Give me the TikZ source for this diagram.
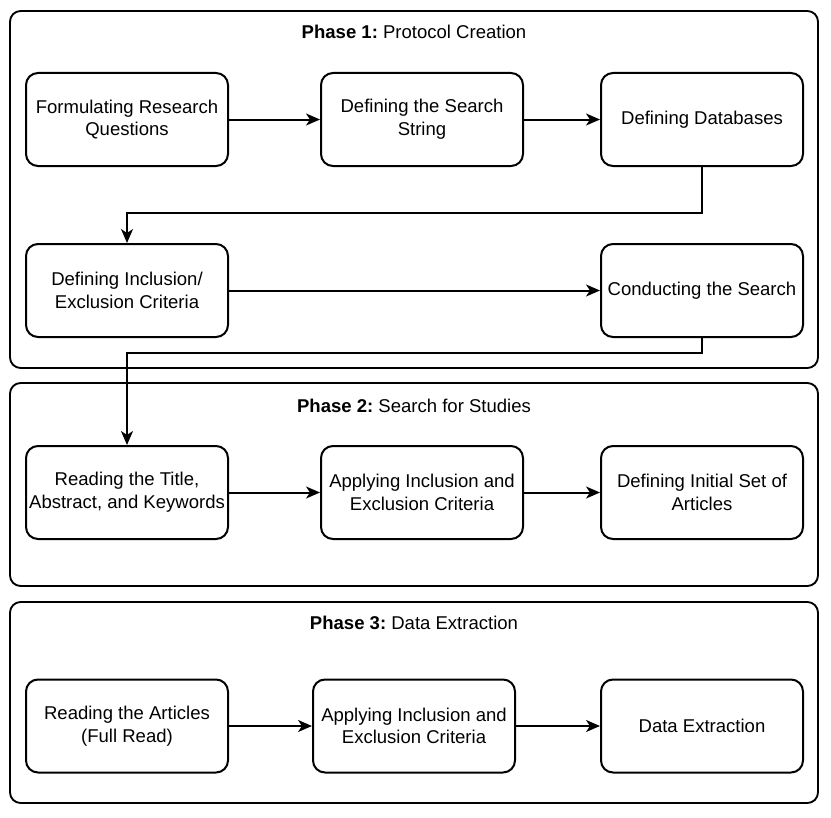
\documentclass[tikz,border=0pt]{standalone}
\usepackage{fontspec}
\setmainfont{Liberation Sans}
\usepackage{tikz}
\usetikzlibrary{arrows.meta,positioning}
\frenchspacing

\begin{document}
\begin{tikzpicture}[x=0.75pt, y=-0.75pt, >={Stealth[length=10.5pt, width=9pt, inset=3pt]},
  font=\fontsize{13.9}{17}\selectfont,
  stepbox/.style={rectangle, rounded corners=9pt, draw, line width=1.5pt,
                  minimum width=151.5pt, minimum height=69.75pt, align=center, inner sep=2pt},
  phasebox/.style={rounded corners=8pt, draw, line width=1.4pt},
  phasetitle/.style={anchor=center, inner sep=0pt},
  flow/.style={->, line width=1.5pt}]
  \useasboundingbox (0,0) rectangle (831,817);
  \draw[phasebox] (10,11) rectangle (818,368);
  \draw[phasebox] (10,383) rectangle (818,586);
  \draw[phasebox] (10,602) rectangle (818,803);
  \node[phasetitle] (p1) at (414,32) {\textbf{Phase 1:} Protocol Creation};
  \node[phasetitle] (p2) at (414,406) {\textbf{Phase 2:} Search for Studies};
  \node[phasetitle] (p3) at (414,623) {\textbf{Phase 3:} Data Extraction};
  \node[stepbox] (rq) at (127,119.5) {Formulating Research\\Questions};
  \node[stepbox] (ss) at (422,119.5) {Defining the Search\\String};
  \node[stepbox] (db) at (702,119.5) {Defining Databases};
  \node[stepbox] (ic) at (127,290.5) {Defining Inclusion/\\Exclusion Criteria};
  \node[stepbox] (cs) at (702,290.5) {Conducting the Search};
  \node[stepbox] (rt) at (127,492.5) {Reading the Title,\\Abstract, and Keywords};
  \node[stepbox] (ai) at (422,492.5) {Applying Inclusion and\\Exclusion Criteria};
  \node[stepbox] (ds) at (702,492.5) {Defining Initial Set of\\Articles};
  \node[stepbox] (ra) at (127,726) {Reading the Articles\\(Full Read)};
  \node[stepbox] (ae) at (414,726) {Applying Inclusion and\\Exclusion Criteria};
  \node[stepbox] (de) at (702,726) {Data Extraction};
  \draw[flow] (rq) -- (ss);
  \draw[flow] (ss) -- (db);
  \draw[flow] (db.south) -- ++(0,46) -| (ic.north);
  \draw[flow] (ic) -- (cs);
  \draw[flow] (cs.south) -- ++(0,15) -| (rt.north);
  \draw[flow] (rt) -- (ai);
  \draw[flow] (ai) -- (ds);
  \draw[flow] (ra) -- (ae);
  \draw[flow] (ae) -- (de);
\end{tikzpicture}
\end{document}
